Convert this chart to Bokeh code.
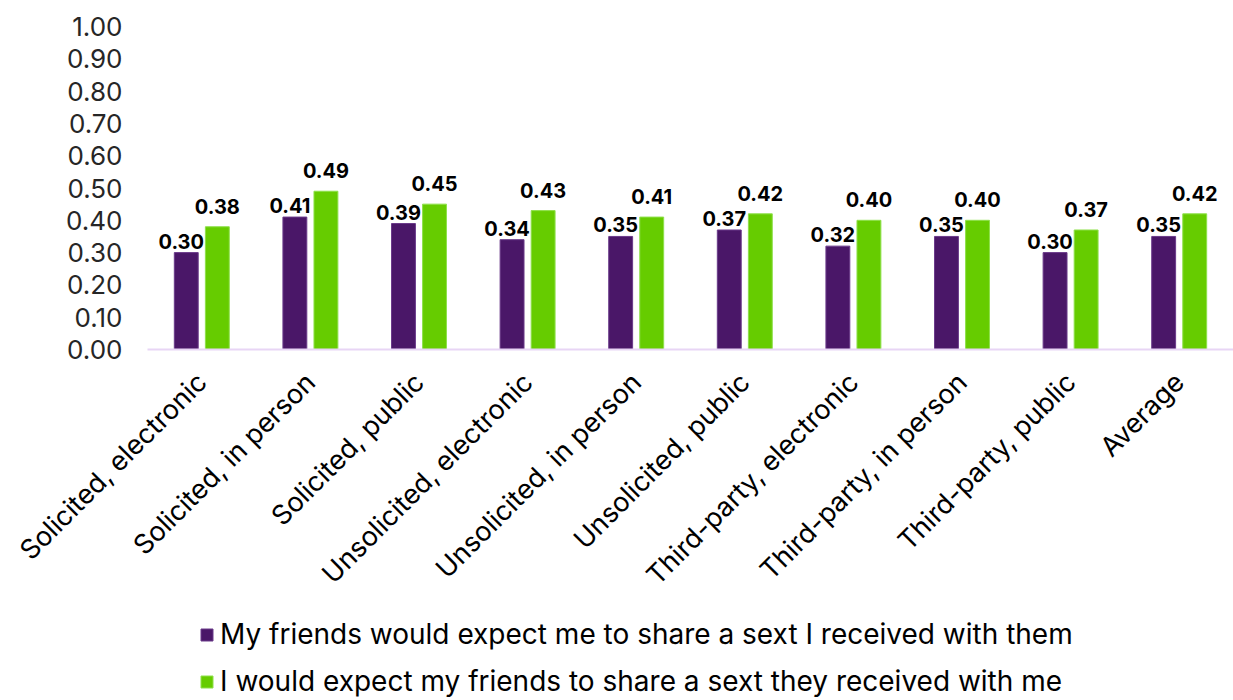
import math
from bokeh.plotting import figure
from bokeh.layouts import column
from bokeh.models import (ColumnDataSource, LabelSet, Legend, LegendItem,
                          NumeralTickFormatter, FixedTicker)
from bokeh.core.properties import value
from bokeh.transform import dodge
from bokeh.embed import file_html
from bokeh.resources import INLINE

categories = ["Solicited, electronic", "Solicited, in person", "Solicited, public",
              "Unsolicited, electronic", "Unsolicited, in person", "Unsolicited, public",
              "Third-party, electronic", "Third-party, in person", "Third-party, public",
              "Average"]
friends_expect_me = [0.30, 0.41, 0.39, 0.34, 0.35, 0.37, 0.32, 0.35, 0.30, 0.35]
i_expect_friends = [0.38, 0.49, 0.45, 0.43, 0.41, 0.42, 0.40, 0.40, 0.37, 0.42]
series_names = ["My friends would expect me to share a sext I received with them",
                "I would expect my friends to share a sext they received with me"]
y_ticks = [0.0, 0.1, 0.2, 0.3, 0.4, 0.5, 0.6, 0.7, 0.8, 0.9, 1.0]

PURPLE = "#4A1768"
GREEN = "#66CC00"
PURPLE_EDGE = "#6a3a8a"
GREEN_EDGE = "#8ee04a"
FONT = "Inter"

src = ColumnDataSource(dict(
    cat=categories,
    a=friends_expect_me,
    b=i_expect_friends,
    a_txt=[f"{v:.2f}" for v in friends_expect_me],
    b_txt=[f"{v:.2f}" for v in i_expect_friends],
))

p = figure(x_range=categories, y_range=(0, 1.0), width=1233, height=612,
           output_backend="svg", toolbar_location=None)
p.min_border_left = 147
p.min_border_right = 0
p.min_border_top = 26
p.min_border_bottom = 263
p.outline_line_color = None
p.xgrid.grid_line_color = None
p.ygrid.grid_line_color = None

p.vbar(x=dodge("cat", -0.143, range=p.x_range), top="a", width=0.22, source=src,
       fill_color=PURPLE, line_color=PURPLE_EDGE, line_width=1)
p.vbar(x=dodge("cat", 0.143, range=p.x_range), top="b", width=0.22, source=src,
       fill_color=GREEN, line_color=GREEN_EDGE, line_width=1)

l1 = LabelSet(x=dodge("cat", -0.143, range=p.x_range), y="a", text="a_txt", source=src,
              text_align="center", text_baseline="bottom", x_offset=-5, y_offset=4,
              text_font=value(FONT), text_font_style="bold", text_font_size="20px",
              text_color="#000000")
l2 = LabelSet(x=dodge("cat", 0.143, range=p.x_range), y="b", text="b_txt", source=src,
              text_align="center", text_baseline="bottom", x_offset=0, y_offset=13,
              text_font=value(FONT), text_font_style="bold", text_font_size="20px",
              text_color="#000000")
p.add_layout(l1)
p.add_layout(l2)

# y axis
p.yaxis.ticker = FixedTicker(ticks=y_ticks)
p.yaxis.formatter = NumeralTickFormatter(format="0.00")
p.yaxis.axis_line_color = None
p.yaxis.major_tick_line_color = None
p.yaxis.minor_tick_line_color = None
p.yaxis.major_label_standoff = 19
p.yaxis.major_label_text_font = FONT
p.yaxis.major_label_text_font_size = "26px"
p.yaxis.major_label_text_color = "#262626"

# x axis
p.xaxis.axis_line_color = "#E8D5F5"
p.xaxis.axis_line_width = 2
p.xaxis.major_tick_line_color = None
p.xaxis.minor_tick_line_color = None
p.xaxis.major_label_orientation = math.pi / 4
p.xaxis.major_label_standoff = 22
p.xaxis.major_label_text_font = FONT
p.xaxis.major_label_text_font_size = "27px"
p.xaxis.major_label_text_color = "#000000"

# legend strip below the chart (proxy renderers lie outside its visible ranges)
pl = figure(width=1233, height=88, x_range=(5, 6), y_range=(5, 6),
            output_backend="svg", toolbar_location=None,
            x_axis_location=None, y_axis_location=None)
pl.min_border_left = 0
pl.min_border_right = 0
pl.min_border_top = 0
pl.min_border_bottom = 0
pl.outline_line_color = None
pl.xgrid.grid_line_color = None
pl.ygrid.grid_line_color = None
e1 = pl.vbar(x="a", top="a", width=0.01, source=src,
             fill_color=PURPLE, line_color=PURPLE_EDGE)
e2 = pl.vbar(x="b", top="b", width=0.01, source=src,
             fill_color=GREEN, line_color=GREEN_EDGE)

legend = Legend(items=[LegendItem(label=series_names[0], renderers=[e1]),
                       LegendItem(label=series_names[1], renderers=[e2])],
                orientation="vertical", location=(52, 2),
                label_text_font=FONT, label_text_font_size="28px",
                label_text_color="#000000", label_height=34,
                glyph_width=15, glyph_height=15, label_standoff=6,
                spacing=13, padding=0, margin=0,
                border_line_color=None, background_fill_alpha=0)
pl.add_layout(legend)

layout = column(p, pl, spacing=0)
open("out.html", "w").write(file_html(layout, INLINE))
